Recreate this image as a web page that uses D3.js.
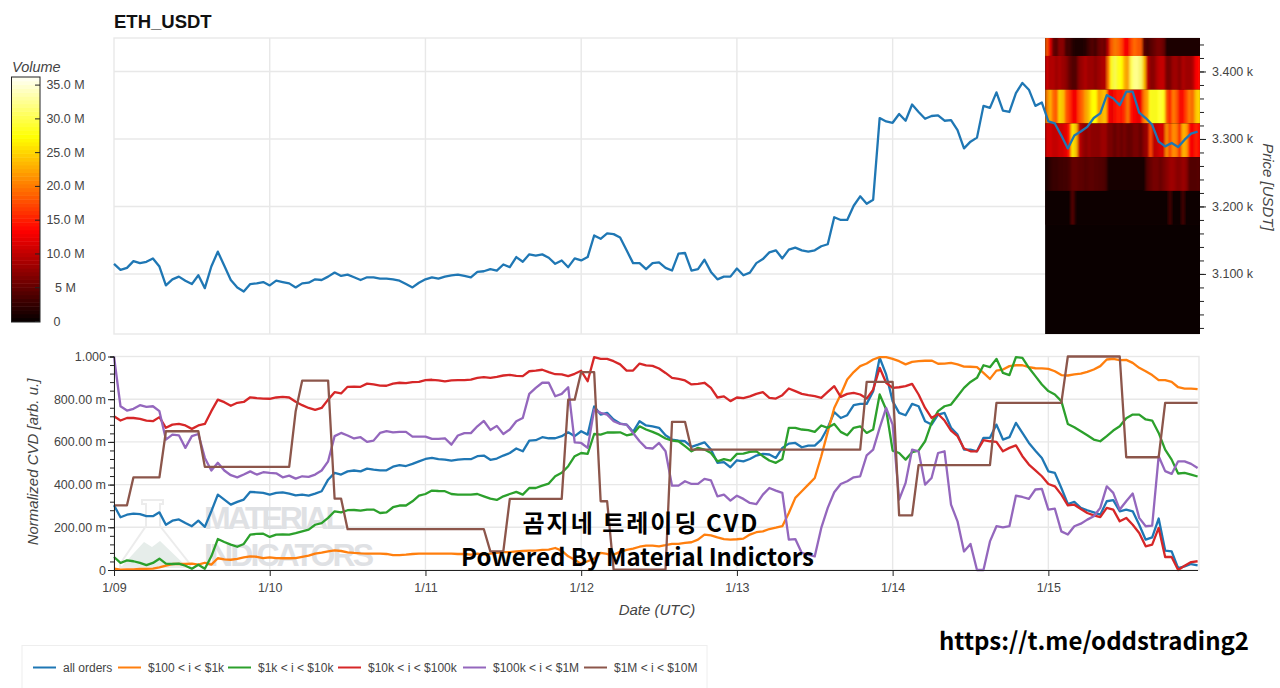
<!DOCTYPE html>
<html>
<head>
<meta charset="utf-8">
<script src="https://cdn.jsdelivr.net/npm/d3@7"></script>
<style>
  html, body { margin: 0; padding: 0; background: #fff; overflow: hidden; }
  svg { display: block; }
  text { font-family: "Liberation Sans", Arial, sans-serif; }
  .overlay { font-family: "Noto Sans CJK KR", "Noto Sans", sans-serif; font-weight: 700; font-size: 24px; fill: #000; }
</style>
</head>
<body>
<svg id="chart" width="1280" height="688"></svg>
<script>
const startTime = Date.UTC(2022, 0, 9);
const hourMs = 3600000;
const dayTicks = d3.range(0, 7).map(d => startTime + d * 24 * hourMs);

// hourly close, USDT
const price = [
  3115,3106,3109,3119,3116,3118,3123,3111,3083,3092,3096,3090,
  3085,3098,3079,3111,3133,3112,3091,3080,3074,3085,3086,3088,
  3083,3090,3088,3086,3080,3086,3087,3092,3091,3096,3102,3097,
  3099,3095,3091,3095,3095,3093,3093,3092,3090,3085,3080,3087,
  3092,3095,3093,3096,3098,3099,3097,3095,3103,3104,3107,3105,
  3114,3110,3125,3118,3129,3127,3129,3124,3115,3120,3110,3123,
  3120,3125,3157,3152,3160,3159,3154,3135,3116,3116,3107,3116,
  3117,3109,3105,3130,3131,3105,3107,3121,3103,3092,3096,3096,
  3108,3098,3102,3116,3122,3132,3135,3123,3136,3139,3135,3133,
  3135,3141,3144,3184,3180,3180,3201,3215,3204,3210,3331,3326,
  3324,3337,3327,3351,3340,3330,3334,3335,3327,3328,3313,3286,
  3296,3302,3349,3346,3369,3342,3340,3368,3383,3373,3349,3354,
  3326,3323,3305,3286,3305,3311,3318,3331,3338,3365,3360,3350,
  3370,3370,3339,3331,3321,3296,3289,3294,3288,3299,3308,3311
];

// normalized CVD per order size, in milli units
const cvdAll = [
  303,247,259,264,262,252,252,270,212,231,237,220,
  205,231,202,275,353,330,306,319,330,366,364,361,
  353,361,364,358,350,353,348,358,369,423,455,447,
  462,466,462,475,470,467,467,484,491,487,497,509,
  520,525,519,517,512,517,519,519,533,536,516,522,
  536,548,569,556,606,608,622,617,617,627,645,627,
  650,634,766,728,736,705,686,681,647,697,677,673,
  666,631,611,606,603,577,587,598,564,502,505,481,
  514,509,520,536,544,541,525,572,592,595,575,583,
  583,611,666,739,712,725,772,778,778,837,994,916,
  791,736,725,778,767,697,681,728,736,666,634,564,
  564,556,619,619,681,611,622,689,642,595,559,525,
  462,455,384,309,319,291,280,270,259,322,327,275,
  283,275,212,142,153,241,91,87,9,17,28,22
];
const cvd100 = [
  6,2,3,3,5,5,6,12,20,28,28,28,
  30,25,34,25,55,50,48,52,59,64,62,56,
  59,56,55,55,56,62,67,77,81,87,92,89,
  83,80,78,77,77,77,75,70,70,72,75,77,
  77,77,77,77,77,75,75,72,77,72,77,80,
  84,84,87,89,91,91,94,95,103,91,64,48,
  28,41,53,80,75,72,85,94,100,109,114,114,
  111,116,122,122,127,130,142,166,162,153,145,142,
  144,147,166,177,181,192,198,205,267,338,369,400,
  431,533,647,759,822,892,927,955,967,986,997,997,
  989,978,963,975,978,980,981,966,967,970,963,953,
  952,950,923,895,934,939,955,959,959,950,945,944,
  942,931,913,911,916,920,928,939,955,986,989,983,
  984,970,947,931,913,889,889,881,856,850,850,847
];
const cvd1k = [
  61,33,45,41,33,23,33,53,30,28,30,20,
  6,25,6,64,145,131,119,109,122,166,169,170,
  155,166,167,166,173,181,189,212,220,244,275,270,
  280,281,278,283,283,267,270,294,302,302,322,348,
  356,372,370,369,356,353,353,353,356,345,334,328,
  345,356,366,353,384,384,395,405,439,455,486,533,
  548,544,637,634,644,644,645,631,637,673,658,647,
  634,616,606,603,580,556,572,564,548,509,519,512,
  544,545,553,556,533,513,502,520,666,666,658,655,
  647,677,666,684,647,631,666,673,642,658,822,752,
  559,548,517,552,559,603,689,744,767,775,814,853,
  881,900,959,950,989,923,913,997,994,947,908,869,
  838,822,791,684,669,650,631,611,603,627,653,673,
  711,728,728,705,700,642,564,517,452,455,447,438
];
const cvd10k = [
  720,700,712,712,708,700,697,716,666,681,684,677,
  661,677,684,744,798,786,769,783,787,809,805,803,
  802,808,811,808,788,772,759,750,759,798,833,827,
  858,859,858,873,869,864,863,873,877,875,880,881,
  889,891,888,884,888,889,889,892,900,903,900,905,
  911,914,909,908,931,934,938,927,917,916,908,919,
  933,884,997,989,989,978,963,934,934,967,958,956,
  944,923,900,895,888,869,872,877,853,808,813,791,
  808,805,813,825,833,806,803,819,850,838,825,819,
  814,806,834,861,811,825,830,822,803,845,947,877,
  853,856,861,872,822,759,712,731,700,653,627,569,
  556,556,608,603,600,556,572,584,533,494,467,439,
  403,392,353,303,306,286,267,256,248,291,283,228,
  244,212,173,111,119,197,61,61,0,20,37,41
];
const cvd100k = [
  1000,767,747,755,772,764,767,744,611,634,631,572,
  627,637,525,466,502,466,444,434,447,462,447,458,
  455,453,434,442,428,439,436,447,466,509,627,642,
  630,616,622,600,606,642,650,645,647,647,625,625,
  625,614,614,617,587,630,641,641,673,698,656,675,
  637,658,697,712,825,853,877,877,814,825,856,598,
  595,572,752,736,728,697,684,681,642,603,572,569,
  595,556,395,395,416,403,403,427,420,345,353,325,
  348,333,314,309,353,384,372,361,142,145,80,72,
  64,197,291,364,403,416,434,439,537,564,666,759,
  681,330,408,564,556,400,431,548,556,306,228,87,
  122,0,0,134,205,200,205,348,342,333,377,380,
  283,287,181,166,205,217,236,252,291,392,361,283,
  322,358,244,205,208,533,463,450,509,509,497,478
];
const cvd1M = [
  303,303,303,434,434,434,434,434,650,650,650,650,
  650,650,483,483,483,483,483,483,483,483,483,483,
  483,483,483,483,744,887,887,887,887,887,334,334,
  191,191,191,191,191,191,191,191,191,191,191,191,
  191,191,191,191,191,191,191,191,191,191,87,87,
  87,333,333,333,333,333,333,333,333,333,798,798,
  927,927,927,322,322,2,2,2,2,2,2,2,
  2,2,694,694,694,564,564,564,564,564,564,564,
  564,564,564,564,564,564,564,564,564,564,564,564,
  564,564,564,564,564,564,564,564,881,881,881,881,
  881,256,256,256,491,491,491,491,491,491,491,491,
  491,491,491,491,783,783,783,783,783,783,783,783,
  783,783,783,1000,1000,1000,1000,1000,1000,1000,1000,1000,
  528,528,528,528,528,528,783,783,783,783,783,783
];

const seriesNames = ['all orders', '$100 < i < $1k', '$1k < i < $10k', '$10k < i < $100k', '$100k < i < $1M', '$1M < i < $10M'];
const seriesColors = ['#1f77b4', '#ff7f0e', '#2ca02c', '#d62728', '#9467bd', '#8c564b'];
const seriesValues = [cvdAll, cvd100, cvd1k, cvd10k, cvd100k, cvd1M];

// volume heatmap of the last day, half hour columns, in millions
const heatStartHour = 143.5;
const heatBinSize = 50;
const heatBins = [3423, 3373, 3323, 3273, 3223, 3173];
const heatRow3423 = [18,12,5,4,7,7,3,3,1.5,1,1,1,1.5,3,4,3,5,6,5,10,18,20,19,17,13,13,17,19,18,18,4,3,4,5,6,6,5,1,1,1,1,1,1,1,1,1,1,1];
const heatRow3373 = [11,9,9,8,9,8,7,5,4,4,7,8,9,8,8,7,8,9,9,20,28,30,28,27,23,22,30,32,32,31,24,10,7,7,9,10,10,6,6,8,8,7,9,8,8,9,13,14];
const heatRow3323 = [20,23,19,18,25,24,18,16,13,13,17,19,22,24,27,27,22,23,24,13,12,14,15,14,16,20,14,13,12,13,20,22,28,28,28,29,28,18,15,20,18,14,14,17,20,19,24,25];
const heatRow3273 = [11,11,10,10,11,11,12,15,26,24,10,8,7,8,7,7,7,8,8,6,6,5,6,5,6,5,5,6,6,5,7,8,17,10,10,11,11,21,17,21,20,15,23,22,14,13,15,14];
const heatRow3223 = [1,2,2.5,2.5,3,3,3,3.5,5,5,4.5,4.5,4,4.5,4.5,4,4,4,3.5,.5,.5,.5,.5,.5,.5,.5,.5,.5,.5,.5,.7,4,5,6,6,5,6,7,8,8,7,7,8,7,4,4,4,4];
const heatRow3173 = [.2,.2,.2,.2,.2,.2,.2,.2,4,.5,.2,.2,.2,.2,.2,.2,.2,.2,.2,.1,.1,.1,.1,.1,.1,.1,.1,.1,.1,.1,.1,.2,.2,.2,.2,.2,.2,.2,3,.3,.2,.2,3,.3,.2,.2,.2,.2];
const heatRows = [heatRow3423, heatRow3373, heatRow3323, heatRow3273, heatRow3223, heatRow3173];

const volumeTicks = [0, 5, 10, 15, 20, 25, 30, 35];
const volumeTickLabels = ['0', '5 M', '10.0 M', '15.0 M', '20.0 M', '25.0 M', '30.0 M', '35.0 M'];
const volumeMax = 36.2;

const priceTicks = [3100, 3200, 3300, 3400];
const priceMinorTicks = d3.range(3020, 3450, 20);
const cvdTicks = [0, 200, 400, 600, 800, 1000];
const cvdMinorTicks = d3.range(0, 1001, 40);

const legendLines = [33, 118, 228, 338, 463, 584];
const legendLineLength = 23;

const svg = d3.select('#chart');
const grey = '#444';
const gridColor = '#e8e8e8';

const left = 114, right = 1197.6;
const priceTop = 38, priceBottom = 334;
const cvdTop = 356.5, cvdBottom = 570;

const x = d3.scaleUtc().domain([startTime, startTime + 167 * hourMs]).range([left, right]);
const yPrice = d3.scaleLinear().domain([3011, 3449.6]).range([priceBottom, priceTop]);
const yCvd = d3.scaleLinear().domain([0, 1000]).range([cvdBottom, cvdTop]);
const timeOf = i => startTime + i * hourMs;

const hot = d3.scaleLinear()
  .domain([0, 0.365 * volumeMax, 0.746 * volumeMax, volumeMax])
  .range(['#0a0000', '#ff0000', '#ffff00', '#ffffff'])
  .clamp(true);

const heatLeft = x(timeOf(heatStartHour));

const defs = svg.append('defs');
defs.append('clipPath').attr('id', 'heatClip').append('rect')
  .attr('x', heatLeft).attr('y', priceTop).attr('width', 1200 - heatLeft).attr('height', priceBottom - priceTop);
defs.append('filter').attr('id', 'heatBlur').attr('x', '-5%').attr('width', '110%')
  .append('feGaussianBlur').attr('stdDeviation', '1 0');

svg.append('text').attr('x', 114).attr('y', 28)
  .attr('font-size', 18.5).attr('font-weight', 700).attr('fill', '#111').text('ETH_USDT');

// ---- top plot
function drawGrid(top, bottom, yValues, yScale) {
  const g = svg.append('g').attr('stroke', gridColor).attr('stroke-width', 1.4).attr('fill', 'none');
  g.selectAll('.v').data(dayTicks.slice(1)).join('line')
    .attr('x1', d => x(d)).attr('x2', d => x(d)).attr('y1', top).attr('y2', bottom);
  g.selectAll('.h').data(yValues).join('line')
    .attr('x1', left).attr('x2', 1199).attr('y1', d => yScale(d)).attr('y2', d => yScale(d));
  g.append('rect').attr('x', left).attr('y', top).attr('width', 1199 - left).attr('height', bottom - top);
}
drawGrid(priceTop, priceBottom, priceTicks, yPrice);

const heat = svg.append('g').attr('clip-path', 'url(#heatClip)');
heat.append('rect')
  .attr('x', heatLeft).attr('width', 1200 - heatLeft)
  .attr('y', priceTop).attr('height', priceBottom - priceTop).attr('fill', hot(0));
const heatCols = heat.append('g').attr('filter', 'url(#heatBlur)');
heatRows.forEach((row, r) => {
  heatCols.selectAll(`.r${r}`).data(row).join('rect')
    .attr('x', (d, i) => x(timeOf(heatStartHour + i / 2)))
    .attr('width', x(timeOf(0.5)) - x(timeOf(0)) + 0.4)
    .attr('y', yPrice(heatBins[r] + heatBinSize))
    .attr('height', yPrice(heatBins[r]) - yPrice(heatBins[r] + heatBinSize))
    .attr('fill', d => hot(d));
});

svg.append('path').datum(price)
  .attr('fill', 'none').attr('stroke', '#1f77b4').attr('stroke-width', 2.3).attr('stroke-linejoin', 'round')
  .attr('d', d3.line().x((d, i) => x(timeOf(i))).y(d => yPrice(d)));

function styleAxis(g) {
  g.selectAll('path.domain').attr('stroke', '#222');
  g.selectAll('line').attr('stroke', '#222');
  g.selectAll('text').attr('font-size', 12.5).attr('fill', grey)
    .attr('font-family', '"Liberation Sans", Arial, sans-serif');
}

svg.append('g').attr('transform', 'translate(1200,0)')
  .call(d3.axisRight(yPrice).tickValues(priceMinorTicks).tickSize(4).tickFormat(''))
  .call(styleAxis).call(g => g.select('.domain').remove());
svg.append('g').attr('transform', 'translate(1200,0)')
  .call(d3.axisRight(yPrice).tickValues(priceTicks).tickSize(6).tickPadding(6)
    .tickFormat(d => d3.format('.3f')(d / 1000) + ' k'))
  .call(styleAxis).call(g => g.select('.domain').remove());

svg.append('text')
  .attr('transform', 'translate(1263,187) rotate(90)')
  .attr('text-anchor', 'middle').attr('font-size', 15).attr('font-style', 'italic').attr('fill', grey)
  .text('Price [USDT]');

// ---- colour bar
const yBar = d3.scaleLinear().domain([0, volumeMax]).range([321.5, 77]);
const barSteps = d3.range(0, volumeMax, volumeMax / 64);
svg.append('g').selectAll('rect').data(barSteps).join('rect')
  .attr('x', 11.5).attr('width', 28.5)
  .attr('y', d => yBar(d + volumeMax / 64))
  .attr('height', d => yBar(d) - yBar(d + volumeMax / 64) + 0.5)
  .attr('fill', d => hot(d));
svg.append('rect').attr('x', 11.5).attr('y', 77).attr('width', 28.5).attr('height', 245)
  .attr('fill', 'none').attr('stroke', '#222').attr('stroke-width', 1);
svg.append('g').selectAll('line').data(volumeTicks).join('line')
  .attr('x1', 35).attr('x2', 40).attr('y1', d => yBar(d)).attr('y2', d => yBar(d))
  .attr('stroke', '#222');
svg.append('g').selectAll('text').data(volumeTicks).join('text')
  .attr('x', d => d === 0 ? 57 : 65.5).attr('y', d => yBar(d) + 4)
  .attr('text-anchor', 'middle').attr('font-size', 12.5).attr('fill', grey)
  .text((d, i) => volumeTickLabels[i]);
svg.append('text').attr('x', 12).attr('y', 71.5)
  .attr('font-size', 14.5).attr('font-style', 'italic').attr('fill', grey).text('Volume');

// ---- bottom plot
drawGrid(cvdTop, cvdBottom, cvdTicks.slice(1, 5), yCvd);

// watermark sits behind the lines
const mark = svg.append('g');
mark.append('path')
  .attr('d', 'M142,500 h21 v4 h-3 v22 l30,38 v3 h-70 v-3 l26,-38 v-22 h-4 z')
  .attr('fill', 'none').attr('stroke', '#ececec').attr('stroke-width', 2);
mark.append('path')
  .attr('d', 'M122,566 l22,-24 l8,5 l8,-6 l26,25 z')
  .attr('fill', '#e6edea');
mark.append('text').attr('x', 204).attr('y', 529).attr('font-size', 32).attr('font-weight', 700)
  .attr('fill', '#dfe1e4').attr('textLength', 141).text('MATERIAL');
mark.append('text').attr('x', 204).attr('y', 566).attr('font-size', 32).attr('font-weight', 700)
  .attr('fill', '#dfe1e4').attr('textLength', 170).text('INDICATORS');

svg.append('g').selectAll('path').data(seriesValues).join('path')
  .attr('fill', 'none').attr('stroke-width', 2.3).attr('stroke-linejoin', 'round')
  .attr('stroke', (d, i) => seriesColors[i])
  .attr('d', d3.line().x((d, i) => x(timeOf(i))).y(d => yCvd(d)));

svg.append('g').attr('transform', `translate(${left},0)`)
  .call(d3.axisLeft(yCvd).tickValues(cvdMinorTicks).tickSize(4).tickFormat(''))
  .call(styleAxis);
svg.append('g').attr('transform', `translate(${left},0)`)
  .call(d3.axisLeft(yCvd).tickValues(cvdTicks).tickSize(6).tickPadding(2)
    .tickFormat(d => d === 0 ? '0' : d === 1000 ? '1.000' : d3.format('.2f')(d) + ' m'))
  .call(styleAxis).call(g => g.select('.domain').remove());

svg.append('g').attr('transform', `translate(0,${cvdBottom})`)
  .call(d3.axisBottom(x).tickValues(dayTicks).tickSize(6).tickPadding(7)
    .tickFormat(d3.utcFormat('%-m/%d')))
  .call(styleAxis)
  .call(g => g.select('.domain').attr('d', `M${left},0.5H1198`));

svg.append('text').attr('x', 657).attr('y', 615).attr('text-anchor', 'middle')
  .attr('font-size', 15).attr('font-style', 'italic').attr('fill', grey).text('Date (UTC)');
svg.append('text').attr('transform', 'translate(38,462) rotate(-90)').attr('text-anchor', 'middle')
  .attr('font-size', 15).attr('font-style', 'italic').attr('fill', grey).text('Normalized CVD [arb. u.]');

// ---- legend
svg.append('rect').attr('x', 22).attr('y', 645.5).attr('width', 685).attr('height', 50)
  .attr('fill', '#fff').attr('stroke', '#eee');
const legend = svg.append('g').selectAll('g').data(seriesNames).join('g')
  .attr('transform', (d, i) => `translate(${legendLines[i]},667.5)`);
legend.append('line').attr('x2', legendLineLength).attr('stroke-width', 2)
  .attr('stroke', (d, i) => seriesColors[i]);
legend.append('text').attr('x', legendLineLength + 7).attr('y', 4.5)
  .attr('font-size', 12).attr('fill', grey).text(d => d);

// ---- overlay captions
svg.append('text').attr('class', 'overlay').attr('x', 641).attr('y', 532).attr('text-anchor', 'middle')
  .attr('letter-spacing', 2).text('곰지네 트레이딩 CVD');
svg.append('text').attr('class', 'overlay').attr('x', 637.5).attr('y', 566).attr('text-anchor', 'middle').text('Powered By Material Indictors');
svg.append('text').attr('class', 'overlay').attr('x', 1094).attr('y', 650).attr('text-anchor', 'middle').attr('font-size', 24).text('https://t.me/oddstrading2');
</script>
</body>
</html>
